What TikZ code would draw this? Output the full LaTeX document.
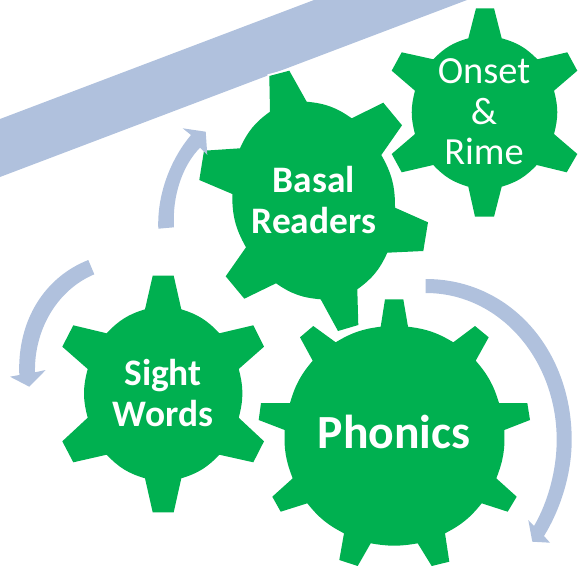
\documentclass[tikz,border=0pt]{standalone}
\usepackage{fontspec}
\setmainfont{Carlito}
\definecolor{gearg}{HTML}{00B050}
\definecolor{bandb}{HTML}{B0C1DD}
\tikzset{
  gearfill/.style={fill=gearg,draw=none},
  halo/.style={draw=white,line width=4pt,line join=miter},
  blockarrow/.style={fill=bandb,draw=none},
  arcseg/.style={bend left=#1},
  geartext/.style={text=white,font=\fontsize{37.4}{40.5}\selectfont\bfseries,align=center,inner sep=0pt},
  onsettext/.style={text=white,font=\fontsize{38.4}{40.5}\selectfont,align=center,inner sep=0pt},
}
\newcommand{\basalpath}{(269.3,76) -- (289.3,70.7) -- (306.7,101.7) to[arcseg=15] (351.7,118.3) -- (383.3,102.7) -- (402,125.3) -- (381.3,155) to[arcseg=15] (395,207.7) -- (428,222.3) -- (423.3,251) -- (387.3,252.7) to[arcseg=15] (357.3,289.3) -- (358.3,325) -- (338,331) -- (320.7,299.3) to[arcseg=15] (276,283.3) -- (244.3,298.7) -- (225.7,276.3) -- (246,247.3) to[arcseg=15] (232.3,194) -- (199.3,180) -- (204,150.7) -- (240,148.3) to[arcseg=15] (270,111.7) -- cycle}
\begin{document}
\begin{tikzpicture}[x=1pt,y=-1pt]
\useasboundingbox (0,0) rectangle (578,565);
\clip (0,0) rectangle (578,565);
% band
\fill[bandb] (0,119) -- (314,0) -- (467,0) -- (0,177) -- cycle;
% Basal Readers gear
\path[halo] \basalpath;
\path[gearfill] \basalpath;
% Onset gear
\path[gearfill] (476,8.3) -- (494,8.3) -- (501.7,38.3) to[arcseg=15] (537.3,59.3) -- (567.3,52.3) -- (577.3,70.7) -- (554,90.7) to[arcseg=15] (554,134) -- (577.3,154) -- (566.7,172.3) -- (536.7,165) to[arcseg=15] (501.7,186.7) -- (494,216.7) -- (475,216.7) -- (468.3,186.7) to[arcseg=15] (433.3,165) -- (401.7,172.3) -- (391.7,154) -- (415,134) to[arcseg=15] (415,90.7) -- (391.7,70.7) -- (401.7,52.3) -- (433.3,59.3) to[arcseg=15] (468.3,38.3) -- cycle;
% Sight Words gear
\path[gearfill] (152.7,275.7) -- (173.7,275.7) -- (181.3,309.3) to[arcseg=15] (219.3,333.3) -- (253.3,325.3) -- (264,346.7) -- (238.7,369) to[arcseg=15] (238.7,417.7) -- (264,441.3) -- (253.3,462.3) -- (219.3,454.7) to[arcseg=15] (181.3,478.3) -- (173.7,512.3) -- (152.7,512.3) -- (145,478.3) to[arcseg=15] (106.7,454.7) -- (73.3,462.3) -- (62.3,441.3) -- (87.7,417.7) to[arcseg=15] (87.7,369) -- (62.3,346.7) -- (73.3,325.3) -- (106.7,333.3) to[arcseg=15] (145,309.3) -- cycle;
% Phonics gear
\path[gearfill] (385,299.3) -- (403.3,299.3) -- (408,326.7) to[arcseg=12] (453.3,342.3) -- (475,326) -- (488.7,337.3) -- (475.7,360.7) to[arcseg=12] (499,403) -- (527.3,403) -- (530,420) -- (504.3,430) to[arcseg=12] (496.3,478.3) -- (516.7,496.7) -- (507.7,511.7) -- (481.7,503.3) to[arcseg=12] (445,533.3) -- (449.3,561.7) -- (431.7,566) -- (417.7,543.3) to[arcseg=10] (370.7,543.3) -- (357.7,566) -- (339.3,560) -- (344,533.3) to[arcseg=12] (307.3,503.3) -- (280.7,511.7) -- (272.3,496.7) -- (292.7,478.3) to[arcseg=12] (284.7,430) -- (258.7,420) -- (261,403) -- (290,403) to[arcseg=12] (312.7,360.7) -- (300,337.3) -- (313.3,326) -- (335.7,342.3) to[arcseg=12] (380.7,326.7) -- cycle;
% arrows
\path[blockarrow] (158.3,228.7) .. controls (157,195) and (170,160) .. (191,135) -- (182.7,128.3) -- (205.7,131.7) -- (207.3,155) -- (200,147.7) .. controls (183,165) and (172,195) .. (174,227.3) -- cycle;
\path[blockarrow] (88.3,260) .. controls (45,277) and (17,320) .. (19.3,375) -- (10,376.7) -- (29.3,386.7) -- (45.7,370) -- (35,372.3) .. controls (34,330) and (57,290) .. (94.3,274.3) -- cycle;
\path[blockarrow] (425.7,279) .. controls (510,279) and (571.7,350) .. (571.7,440) .. controls (571.7,475) and (560,510) .. (544,536) -- (550,542.7) -- (532.3,541.7) -- (528.3,520) -- (534,526) .. controls (548,502) and (556.7,470) .. (556.7,440) .. controls (556.7,360) and (500,293) .. (425.7,293) -- cycle;
% labels
\node[geartext] (basal) at (313.7,200) {Basal\\Readers};
\node[geartext] (sight) at (163,393) {Sight\\Words};
\node[geartext,font=\fontsize{47.6}{50}\selectfont\bfseries] (phonics) at (394,432) {Phonics};
\node[onsettext] (onset) at (484,112) {Onset\\\&\\Rime};
\end{tikzpicture}
\end{document}
